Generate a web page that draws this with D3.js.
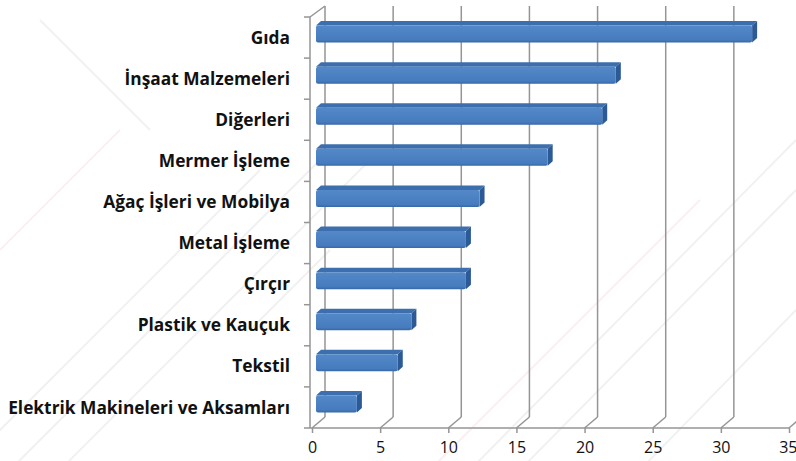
<!DOCTYPE html>
<html>
<head>
<meta charset="utf-8">
<script src="https://cdn.jsdelivr.net/npm/d3@7"></script>
<style>
  html, body { margin: 0; padding: 0; background: #fff; }
  svg { display: block; }
</style>
</head>
<body>
<div id="chart"></div>
<script>
const categories = [
  'Gıda',
  'İnşaat Malzemeleri',
  'Diğerleri',
  'Mermer İşleme',
  'Ağaç İşleri ve Mobilya',
  'Metal İşleme',
  'Çırçır',
  'Plastik ve Kauçuk',
  'Tekstil',
  'Elektrik Makineleri ve Aksamları'
];
const values = [32, 22, 21, 17, 12, 11, 11, 7, 6, 3];
const tickValues = [0, 5, 10, 15, 20, 25, 30, 35];

const width = 796;
const height = 461;

// front plane of the 3d box and depth offset to the back wall
const front = { left: 312, right: 789, top: 17, bottom: 428 };
const depth = { dx: 13, dy: -11 };

const svg = d3.select('#chart')
  .append('svg')
  .attr('width', width)
  .attr('height', height);

// faint background texture
const bg = svg.append('g').attr('fill', 'none');
const streaks = [
  [-40, 470, 260, 170], [10, 470, 330, 150], [60, 470, 380, 150],
  [430, 470, 700, 200], [470, 470, 796, 140], [520, 470, 796, 190],
  [640, 470, 796, 310], [0, 250, 120, 130], [150, 130, 40, 20],
  [250, 330, 330, 250]
];
bg.selectAll('line')
  .data(streaks)
  .enter()
  .append('line')
  .attr('x1', (d) => d[0]).attr('y1', (d) => d[1])
  .attr('x2', (d) => d[2]).attr('y2', (d) => d[3])
  .attr('stroke', (d, i) => (i % 4 === 3 ? '#faf0f0' : '#f1f1f1'))
  .attr('stroke-width', 2);

const xScale = d3.scaleLinear()
  .domain([0, 35])
  .range([front.left, front.right]);

const yScale = d3.scaleBand()
  .domain(categories)
  .range([front.top, front.bottom]);

const grid = svg.append('g')
  .attr('stroke', '#959595')
  .attr('stroke-width', 1.5)
  .attr('fill', 'none');

// back wall gridlines
grid.selectAll('.back')
  .data(tickValues)
  .enter()
  .append('line')
  .attr('x1', (d) => xScale(d) + depth.dx)
  .attr('x2', (d) => xScale(d) + depth.dx)
  .attr('y1', front.top + depth.dy)
  .attr('y2', front.bottom + depth.dy);

// floor slants
grid.selectAll('.floor')
  .data(tickValues)
  .enter()
  .append('line')
  .attr('x1', (d) => xScale(d))
  .attr('y1', front.bottom)
  .attr('x2', (d) => xScale(d) + depth.dx)
  .attr('y2', front.bottom + depth.dy);

// left wall
grid.append('line')
  .attr('x1', front.left - 2).attr('x2', front.left - 2)
  .attr('y1', front.top).attr('y2', front.bottom);
grid.append('line')
  .attr('x1', front.left - 2).attr('y1', front.top)
  .attr('x2', front.left + depth.dx).attr('y2', front.top + depth.dy);

// category tick marks on the wall edge
const catTicks = categories.map((c) => yScale(c)).concat([front.bottom]);
grid.selectAll('.ctick')
  .data(catTicks)
  .enter()
  .append('line')
  .attr('x1', front.left - 8)
  .attr('x2', front.left - 2)
  .attr('y1', (d) => d)
  .attr('y2', (d) => d);

// x axis along floor front edge
const xAxis = d3.axisBottom(xScale)
  .tickValues(tickValues)
  .tickSize(5)
  .tickPadding(9);

const gx = svg.append('g')
  .attr('transform', `translate(0,${front.bottom})`)
  .call(xAxis);
gx.select('.domain')
  .attr('d', `M${front.left - 2},0H${front.right}`)
  .attr('stroke', '#959595')
  .attr('stroke-width', 1.5);
gx.selectAll('.tick line').attr('stroke', '#959595').attr('stroke-width', 1.5);
gx.selectAll('.tick text')
  .attr('fill', '#111')
  .attr('font-family', '"Open Sans", sans-serif')
  .attr('font-size', 16);
gx.selectAll('.tick text')
  .filter((d) => d === 35)
  .attr('text-anchor', 'end')
  .attr('x', 8);

// category labels
const labels = svg.append('g')
  .selectAll('text')
  .data(categories)
  .enter()
  .append('text')
  .attr('x', 290)
  .attr('y', (d) => yScale(d) + yScale.bandwidth() / 2)
  .attr('dy', '0.35em')
  .attr('text-anchor', 'end')
  .attr('font-family', '"Open Sans", sans-serif')
  .attr('font-weight', 'bold')
  .attr('font-size', 16)
  .attr('fill', '#111')
  .text((d) => d);

// fit the longest label to the width seen in the reference
const longest = labels.filter((d, i) => i === categories.length - 1).node();
const fitSize = 16 * 282 / longest.getComputedTextLength();
labels.attr('font-size', fitSize);

// 3d bars
const defs = svg.append('defs');
const grad = defs.append('linearGradient')
  .attr('id', 'barFront')
  .attr('x1', 0).attr('y1', 0).attr('x2', 0).attr('y2', 1);
grad.append('stop').attr('offset', '0%').attr('stop-color', '#5389c9');
grad.append('stop').attr('offset', '85%').attr('stop-color', '#467bbd');
grad.append('stop').attr('offset', '100%').attr('stop-color', '#3767a6');

const barOff = { dx: 4, dy: -3.5 };
const barDepth = { dx: 5, dy: -4.5 };
const barH = 17;

const data = categories.map((c, i) => ({ name: c, value: values[i] }));

const bars = svg.append('g')
  .selectAll('g')
  .data(data)
  .enter()
  .append('g');

const geo = (d) => {
  const x0 = xScale(0) + barOff.dx;
  const x1 = xScale(d.value) + barOff.dx;
  const cy = yScale(d.name) + yScale.bandwidth() / 2 + barOff.dy;
  return { x0, x1, yt: cy - barH / 2, yb: cy + barH / 2 };
};

// top face
bars.append('path')
  .attr('d', (d) => {
    const g = geo(d);
    return `M${g.x0},${g.yt}L${g.x0 + barDepth.dx},${g.yt + barDepth.dy}` +
      `L${g.x1 + barDepth.dx},${g.yt + barDepth.dy}L${g.x1},${g.yt}Z`;
  })
  .attr('fill', '#3d6fae');

// side face
bars.append('path')
  .attr('d', (d) => {
    const g = geo(d);
    return `M${g.x1},${g.yt}L${g.x1 + barDepth.dx},${g.yt + barDepth.dy}` +
      `L${g.x1 + barDepth.dx},${g.yb + barDepth.dy}L${g.x1},${g.yb}Z`;
  })
  .attr('fill', '#2c5a97');

// front face
bars.append('rect')
  .attr('x', (d) => geo(d).x0)
  .attr('y', (d) => geo(d).yt)
  .attr('width', (d) => geo(d).x1 - geo(d).x0)
  .attr('height', barH)
  .attr('rx', 2)
  .attr('fill', 'url(#barFront)');
</script>
</body>
</html>
